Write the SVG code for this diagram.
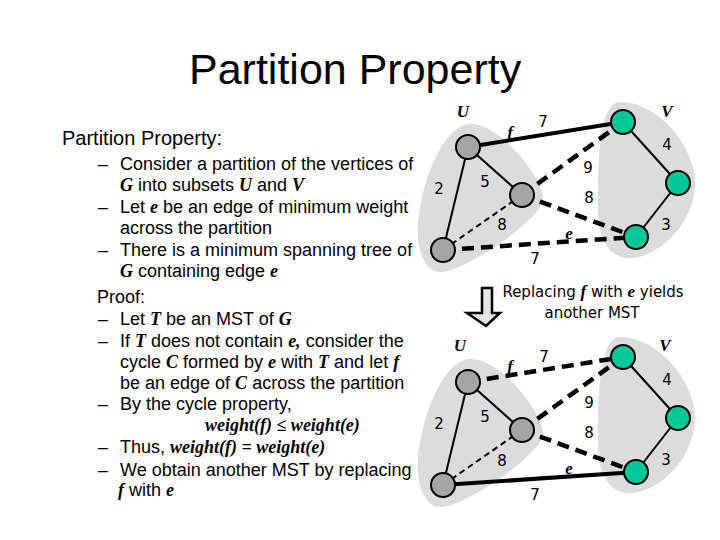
<svg xmlns="http://www.w3.org/2000/svg" width="720" height="540" viewBox="0 0 720 540">
<style>
.title{font-family:"Liberation Sans",Arial,sans-serif;font-size:43px;fill:#000}
.h{font-family:"Liberation Sans",Arial,sans-serif;font-size:20px;fill:#000}
.t{font-family:"Liberation Sans",Arial,sans-serif;font-size:18px;fill:#000}
.m{font-family:"Liberation Serif","Times New Roman",serif;font-weight:bold;font-style:italic}
.blob{fill:#DCDCDC}
.thin{stroke:#000;stroke-width:2;fill:none}
.thick{stroke:#000;stroke-width:4;fill:none}
.dthick{stroke:#000;stroke-width:4.5;stroke-dasharray:12 7;fill:none}
.dthin{stroke:#000;stroke-width:2;stroke-dasharray:6 4;fill:none}
.nu{fill:#A5A5A5;stroke:#000;stroke-width:2}
.nv{fill:#00C896;stroke:#000;stroke-width:2}
.lbl{font-family:"DejaVu Sans",Verdana,sans-serif;font-size:15px;fill:#000;text-anchor:middle;dominant-baseline:central}
.ml{font-family:"Liberation Serif","Times New Roman",serif;font-weight:bold;font-style:italic;font-size:17px;fill:#000;text-anchor:middle;dominant-baseline:central}
.cap{font-family:"DejaVu Sans",Tahoma,sans-serif;font-size:15px;fill:#000;text-anchor:middle}
</style>
<rect width="720" height="540" fill="#fff"/>
<text class="title" x="189" y="84">Partition Property</text>

<g id="text">
<text class="h" x="62" y="145">Partition Property:</text>
<text class="t" x="98" y="170">–</text><text class="t" x="120" y="170">Consider a partition of the vertices of</text>
<text class="t" x="120" y="191"><tspan class="m">G</tspan> into subsets <tspan class="m">U</tspan> and <tspan class="m">V</tspan></text>
<text class="t" x="98" y="213">–</text><text class="t" x="120" y="213">Let <tspan class="m">e</tspan> be an edge of minimum weight</text>
<text class="t" x="120" y="234">across the partition</text>
<text class="t" x="98" y="256">–</text><text class="t" x="120" y="256">There is a minimum spanning tree of</text>
<text class="t" x="120" y="277"><tspan class="m">G</tspan> containing edge <tspan class="m">e</tspan></text>
<text class="t" x="97" y="303">Proof:</text>
<text class="t" x="98" y="325">–</text><text class="t" x="120" y="325">Let <tspan class="m">T</tspan> be an MST of <tspan class="m">G</tspan></text>
<text class="t" x="98" y="347">–</text><text class="t" x="120" y="347">If <tspan class="m">T</tspan> does not contain <tspan class="m">e,</tspan> consider the</text>
<text class="t" x="120" y="368">cycle <tspan class="m">C</tspan> formed by <tspan class="m">e</tspan> with <tspan class="m">T</tspan> and let <tspan class="m">f</tspan></text>
<text class="t" x="120" y="389">be an edge of <tspan class="m">C</tspan> across the partition</text>
<text class="t" x="98" y="410">–</text><text class="t" x="120" y="410">By the cycle property,</text>
<text class="t m" x="205" y="431">weight(f) ≤ weight(e)</text>
<text class="t" x="98" y="453">–</text><text class="t" x="120" y="453">Thus, <tspan class="m">weight(f) = weight(e)</tspan></text>
<text class="t" x="98" y="476">–</text><text class="t" x="120" y="476">We obtain another MST by replacing</text>
<text class="t" x="118" y="496"><tspan class="m">f</tspan> with <tspan class="m">e</tspan></text>
</g>

<g id="blobs">
<path class="blob" d="M470,124 C500,122 546,182 543,200 C540,220 470,268 443,272 C425,274 416,250 418,225 C420,190 440,126 470,124 Z"/>
<path class="blob" d="M620,102 C660,102 697,150 695,185 C693,225 660,255 633,258 C610,260 598,240 598,210 C598,170 598,102 620,102 Z"/>
<path class="blob" d="M470,359 C500,357 546,417 543,435 C540,455 470,503 443,507 C425,509 416,485 418,460 C420,425 440,361 470,359 Z"/>
<path class="blob" d="M620,337 C660,337 697,385 695,420 C693,460 660,490 633,493 C610,495 598,475 598,445 C598,405 598,337 620,337 Z"/>
</g>

<g id="connectors">
<line class="thick" x1="468" y1="147" x2="623" y2="122"/>
<line class="thin" x1="468" y1="147" x2="443" y2="250"/>
<line class="thin" x1="468" y1="147" x2="522" y2="195"/>
<line class="dthin" x1="522" y1="195" x2="443" y2="250"/>
<line class="dthick" x1="522" y1="195" x2="623" y2="122"/>
<line class="dthick" x1="522" y1="195" x2="636" y2="237"/>
<line class="dthick" x1="443" y1="250" x2="636" y2="237"/>
<line class="thin" x1="623" y1="122" x2="678" y2="183"/>
<line class="thin" x1="678" y1="183" x2="636" y2="237"/>

<line class="dthick" x1="468" y1="382" x2="623" y2="357"/>
<line class="thin" x1="468" y1="382" x2="443" y2="485"/>
<line class="thin" x1="468" y1="382" x2="522" y2="430"/>
<line class="dthin" x1="522" y1="430" x2="443" y2="485"/>
<line class="dthick" x1="522" y1="430" x2="623" y2="357"/>
<line class="dthick" x1="522" y1="430" x2="636" y2="472"/>
<line class="thick" x1="443" y1="485" x2="636" y2="472"/>
<line class="thin" x1="623" y1="357" x2="678" y2="418"/>
<line class="thin" x1="678" y1="418" x2="636" y2="472"/>
</g>

<g id="u1a"><circle class="nu" cx="468" cy="147" r="12"/></g>
<g id="u1b"><circle class="nu" cx="522" cy="195" r="12"/></g>
<g id="u1c"><circle class="nu" cx="443" cy="250" r="12"/></g>
<g id="v1a"><circle class="nv" cx="623" cy="122" r="12"/></g>
<g id="v1b"><circle class="nv" cx="678" cy="183" r="12"/></g>
<g id="v1c"><circle class="nv" cx="636" cy="237" r="12"/></g>
<g id="u2a"><circle class="nu" cx="468" cy="382" r="12"/></g>
<g id="u2b"><circle class="nu" cx="522" cy="430" r="12"/></g>
<g id="u2c"><circle class="nu" cx="443" cy="485" r="12"/></g>
<g id="v2a"><circle class="nv" cx="623" cy="357" r="12"/></g>
<g id="v2b"><circle class="nv" cx="678" cy="418" r="12"/></g>
<g id="v2c"><circle class="nv" cx="636" cy="472" r="12"/></g>

<g id="labels1">
<text class="ml" x="463" y="111">U</text>
<text class="ml" x="667" y="111">V</text>
<text class="ml" x="510" y="132">f</text>
<text class="lbl" x="543" y="122">7</text>
<text class="lbl" x="667" y="145">4</text>
<text class="lbl" x="588" y="168">9</text>
<text class="lbl" x="485" y="182">5</text>
<text class="lbl" x="439" y="189">2</text>
<text class="lbl" x="589" y="198">8</text>
<text class="lbl" x="502" y="225">8</text>
<text class="ml" x="569" y="233">e</text>
<text class="lbl" x="666" y="225">3</text>
<text class="lbl" x="535" y="259">7</text>
</g>
<g id="labels2">
<text class="ml" x="460" y="345">U</text>
<text class="ml" x="665" y="345">V</text>
<text class="ml" x="510" y="366">f</text>
<text class="lbl" x="544" y="357">7</text>
<text class="lbl" x="667" y="380">4</text>
<text class="lbl" x="589" y="403">9</text>
<text class="lbl" x="485" y="417">5</text>
<text class="lbl" x="439" y="424">2</text>
<text class="lbl" x="589" y="433">8</text>
<text class="lbl" x="502" y="461">8</text>
<text class="ml" x="569" y="468">e</text>
<text class="lbl" x="666" y="460">3</text>
<text class="lbl" x="535" y="495">7</text>
</g>

<g id="arrow">
<path d="M482,288 L492,288 L492,313 L500,313 L486,326 L467,313 L482,313 Z" fill="#E6E6E6" stroke="#000" stroke-width="2.5" stroke-linejoin="miter"/>
</g>
<g id="caption">
<text class="cap" x="593" y="297">Replacing <tspan class="m" font-size="17">f</tspan> with <tspan class="m" font-size="17">e</tspan> yields</text>
<text class="cap" x="592" y="318">another MST</text>
</g>
</svg>
